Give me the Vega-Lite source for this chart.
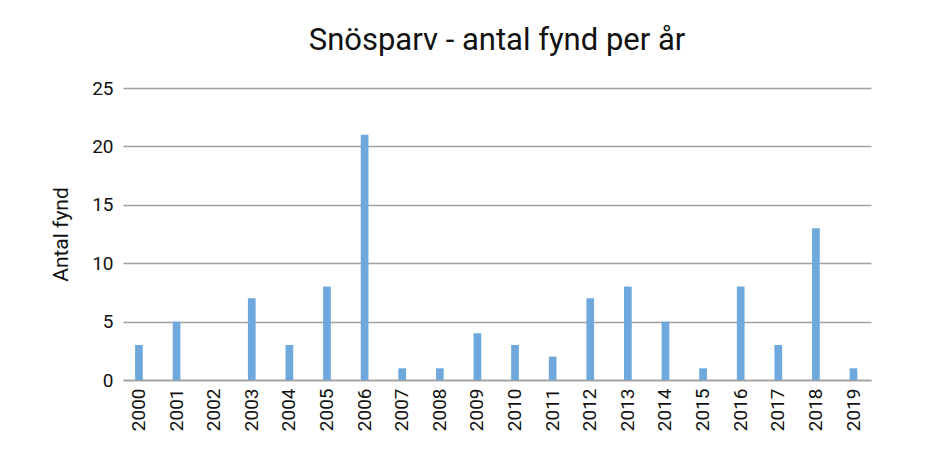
{
  "$schema": "https://vega.github.io/schema/vega-lite/v6.json",
  "width": 748,
  "height": 292,
  "autosize": {"type": "none"},
  "padding": {"left": 123, "top": 88, "right": 71, "bottom": 70},
  "background": "white",
  "title": {
    "text": "Snösparv - antal fynd per år",
    "font": "Roboto",
    "fontSize": 31,
    "fontWeight": "normal",
    "color": "#111111",
    "anchor": "middle",
    "offset": 22
  },
  "data": {
    "values": [
      {"year": "2000", "count": 3},
      {"year": "2001", "count": 5},
      {"year": "2002", "count": 0},
      {"year": "2003", "count": 7},
      {"year": "2004", "count": 3},
      {"year": "2005", "count": 8},
      {"year": "2006", "count": 21},
      {"year": "2007", "count": 1},
      {"year": "2008", "count": 1},
      {"year": "2009", "count": 4},
      {"year": "2010", "count": 3},
      {"year": "2011", "count": 2},
      {"year": "2012", "count": 7},
      {"year": "2013", "count": 8},
      {"year": "2014", "count": 5},
      {"year": "2015", "count": 1},
      {"year": "2016", "count": 8},
      {"year": "2017", "count": 3},
      {"year": "2018", "count": 13},
      {"year": "2019", "count": 1}
    ]
  },
  "mark": {"type": "bar", "color": "#6fa8dc"},
  "encoding": {
    "x": {
      "field": "year",
      "type": "nominal",
      "sort": null,
      "scale": {"paddingInner": 0.795, "paddingOuter": 0.342, "align": 0.47},
      "axis": {
        "title": null,
        "labelAngle": -90,
        "labelAlign": "right",
        "labelBaseline": "middle",
        "labelFont": "Roboto",
        "labelFontSize": 19,
        "labelColor": "#111111",
        "labelPadding": 8,
        "ticks": false,
        "domainColor": "#a0a0a0",
        "domainWidth": 1.5,
        "grid": false
      }
    },
    "y": {
      "field": "count",
      "type": "quantitative",
      "scale": {"domain": [0, 25], "nice": false},
      "axis": {
        "title": "Antal fynd",
        "titleFont": "Roboto",
        "titleFontSize": 21,
        "titleFontWeight": "normal",
        "titleColor": "#111111",
        "titlePadding": 20,
        "values": [0, 5, 10, 15, 20, 25],
        "labelFont": "Roboto",
        "labelFontSize": 19,
        "labelColor": "#111111",
        "labelPadding": 10,
        "ticks": false,
        "domain": false,
        "grid": true,
        "gridColor": "#a0a0a0",
        "gridWidth": 1.5
      }
    }
  },
  "config": {"view": {"stroke": null}}
}
